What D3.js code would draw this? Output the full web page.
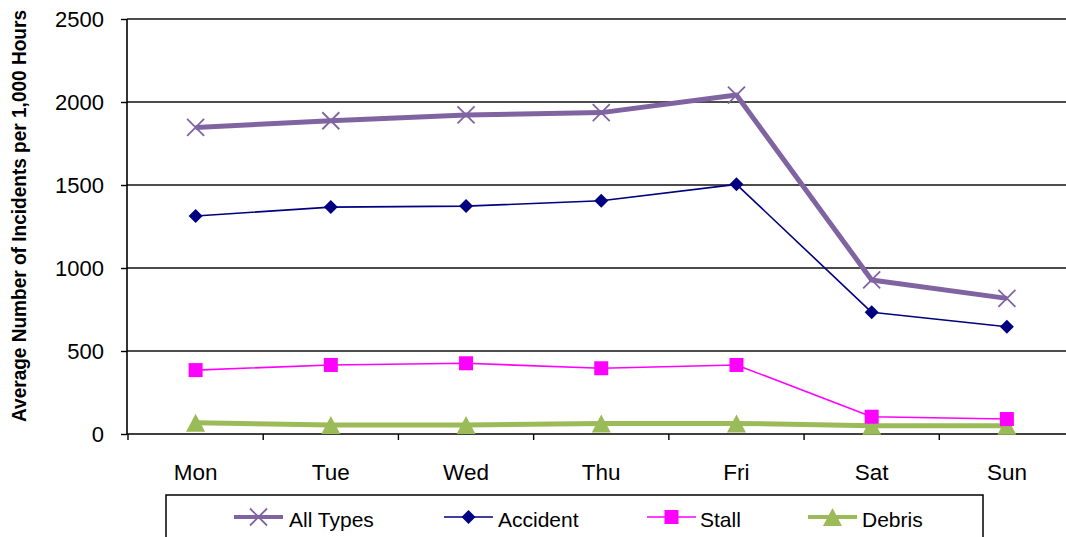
<!DOCTYPE html>
<html><head><meta charset="utf-8">
<script src="https://cdn.jsdelivr.net/npm/d3@7"></script>
<style>body{margin:0;background:#fff;}svg{display:block;font-family:Arial,"Liberation Sans",sans-serif;}</style>
</head><body><svg id="c" width="1066" height="537"></svg>
<script>
const days = ["Mon","Tue","Wed","Thu","Fri","Sat","Sun"];
const allTypes = [1847, 1887, 1922, 1936, 2042, 928, 817];
const accident = [1313, 1367, 1373, 1405, 1504, 733, 646];
const stall = [385, 416, 426, 396, 416, 104, 90];
const debris = [68, 54, 54, 64, 64, 50, 50];
const yTicks = [0, 500, 1000, 1500, 2000, 2500];
const seriesNames = ["All Types","Accident","Stall","Debris"];

const FONT = "Arial, 'Liberation Sans', sans-serif";
const svg = d3.select("#c");
const x = d3.scaleBand().domain(days).range([128, 1074.5]);
const y = d3.scaleLinear().domain([0, 2500]).range([434, 19]);

// gridlines
svg.append("g").selectAll("line").data(yTicks.slice(1)).join("line")
  .attr("x1",127).attr("x2",1066).attr("y1",d=>y(d)).attr("y2",d=>y(d))
  .attr("stroke","#111").attr("stroke-width",1.6);

// y axis
const ya = svg.append("g").attr("transform","translate(127,0)")
  .call(d3.axisLeft(y).tickValues(yTicks).tickSize(6).tickPadding(17).tickFormat(d3.format("d")));
ya.select(".domain").attr("stroke","#000").attr("stroke-width",1.6).attr("d","M0,19V434");
ya.selectAll(".tick line").attr("stroke","#000").attr("stroke-width",1.4);
ya.selectAll("text").attr("font-size",22).attr("fill","#000").attr("font-family",FONT);

// x axis
const xa = svg.append("g").attr("transform","translate(0,434)")
  .call(d3.axisBottom(x).tickSize(0).tickPadding(30));
xa.select(".domain").remove();
xa.selectAll("text").attr("font-size",22.5).attr("fill","#000").attr("font-family",FONT);
svg.append("line").attr("x1",127).attr("x2",1066).attr("y1",434).attr("y2",434).attr("stroke","#000").attr("stroke-width",1.6);
svg.append("g").selectAll("line").data(days).join("line")
  .attr("x1",d=>x(d)).attr("x2",d=>x(d)).attr("y1",434).attr("y2",440)
  .attr("stroke","#000").attr("stroke-width",1.4);

// y title
svg.append("text").attr("transform","translate(26,216) rotate(-90)")
  .attr("text-anchor","middle").attr("font-size",19.5).attr("font-weight","bold")
  .attr("textLength",412).attr("lengthAdjust","spacingAndGlyphs")
  .text("Average Number of Incidents per 1,000 Hours");

const cx = d => x(d) + x.bandwidth()/2;
const line = d3.line().x(d=>cx(d[0])).y(d=>y(d[1]));

const series = [
  {name:seriesNames[0], vals:allTypes, color:"#8064A2", w:5, marker:"x"},
  {name:seriesNames[1], vals:accident, color:"#000080", w:1.6, marker:"diamond"},
  {name:seriesNames[2], vals:stall, color:"#FF00FF", w:1.6, marker:"square"},
  {name:seriesNames[3], vals:debris, color:"#9BBB59", w:5, marker:"triangle"}
];

function drawMarker(g, type, color, px, py){
  if(type==="x"){
    g.append("path").attr("d",`M${px-8.5},${py-8.5}L${px+8.5},${py+8.5}M${px-8.5},${py+8.5}L${px+8.5},${py-8.5}`)
      .attr("stroke",color).attr("stroke-width",1.8).attr("fill","none");
  } else if(type==="diamond"){
    g.append("path").attr("d",`M${px},${py-7}L${px+7},${py}L${px},${py+7}L${px-7},${py}Z`).attr("fill",color);
  } else if(type==="square"){
    g.append("rect").attr("x",px-7).attr("y",py-7).attr("width",14).attr("height",14).attr("fill",color);
  } else {
    g.append("path").attr("d",`M${px},${py-9}L${px+9.5},${py+9}L${px-9.5},${py+9}Z`).attr("fill",color);
  }
}

const order = [3,2,1,0];
order.forEach(i=>{
  const s = series[i];
  const g = svg.append("g");
  g.append("path").datum(days.map((d,j)=>[d,s.vals[j]])).attr("d",line)
    .attr("fill","none").attr("stroke",s.color).attr("stroke-width",s.w).attr("stroke-linejoin","round");
  days.forEach((d,j)=>drawMarker(g, s.marker, s.color, cx(d), y(s.vals[j])));
});

// legend
svg.append("rect").attr("x",166).attr("y",495).attr("width",817).attr("height",60)
  .attr("fill","#fff").attr("stroke","#000").attr("stroke-width",1.5);
const legX = [234, 444, 647, 808];
const legText = [289, 498, 700, 862];
series.forEach((s,i)=>{
  const g = svg.append("g");
  g.append("line").attr("x1",legX[i]).attr("x2",legX[i]+49).attr("y1",517).attr("y2",517)
    .attr("stroke",s.color).attr("stroke-width",s.w===5?4:1.6);
  drawMarker(g, s.marker, s.color, legX[i]+24.5, 517);
  g.append("text").attr("x",legText[i]).attr("y",527).attr("font-size",21).attr("font-family",FONT).text(s.name);
});
</script></body></html>
